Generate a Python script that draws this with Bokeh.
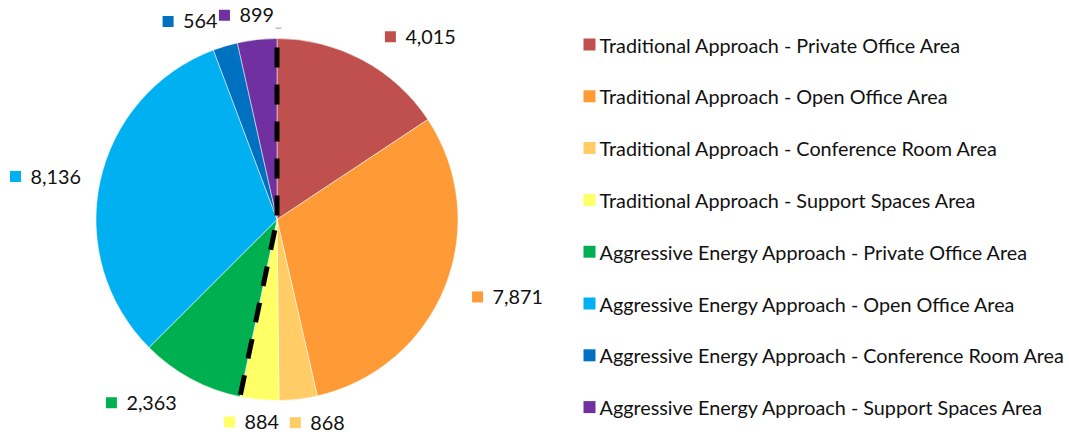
import math
from bokeh.plotting import figure
from bokeh.models import Range1d
from bokeh.core.properties import value
from bokeh.embed import file_html
from bokeh.resources import INLINE

# ---------------- data ----------------
categories = [
    "Traditional Approach - Private Office Area",
    "Traditional Approach - Open Office Area",
    "Traditional Approach - Conference Room Area",
    "Traditional Approach - Support Spaces Area",
    "Aggressive Energy Approach - Private Office Area",
    "Aggressive Energy Approach - Open Office Area",
    "Aggressive Energy Approach - Conference Room Area",
    "Aggressive Energy Approach - Support Spaces Area",
]
values = [4015, 7871, 868, 884, 2363, 8136, 564, 899]
groups = ["Traditional"] * 4 + ["Aggressive"] * 4
colors = ["#C0504D", "#FF9B37", "#FFCC66", "#FFFF66",
          "#00B050", "#00B0F0", "#0070C0", "#7030A0"]

# ---------------- layout (pixels) ----------------
W, H = 1069, 434
CX, CY = 276.5, H - 219      # pie centre (data coords, y up)
R = 181
FONT = "Lato"
FS = "19.8px"

# label square placement (angle nudge from slice mid-angle, radius)
label_nudge = [3.6, -0.7, 1.6, 7.6, 13.7, -2.9, -12.2, -8.1]
label_rad = [215, 215, 204, 208, 247, 265, 226, 211]

p = figure(width=W, height=H, x_range=Range1d(0, W), y_range=Range1d(0, H),
           output_backend="svg", toolbar_location=None, min_border=0,
           x_axis_location=None, y_axis_location=None)
p.grid.visible = False
p.outline_line_color = None
p.background_fill_color = "white"
p.border_fill_color = "white"

total = float(sum(values))
cum = [0.0]
for v in values:
    cum.append(cum[-1] + v)
a0 = [c / total * 360 for c in cum[:-1]]
a1 = [c / total * 360 for c in cum[1:]]

def rad(a):
    return math.radians(90 - a)

p.wedge(x=[CX] * len(values), y=[CY] * len(values), radius=R,
        start_angle=[rad(a) for a in a0], end_angle=[rad(a) for a in a1],
        direction="clock", fill_color=colors, line_color="white", line_width=0.5)

# dashed separators between the two approaches
n_trad = groups.count("Traditional")
split = a1[n_trad - 1]
for ang, off in [(0.0, 33), (split, 26)]:
    ex = CX + R * math.sin(math.radians(ang))
    ey = CY + R * math.cos(math.radians(ang))
    p.line([CX, ex], [CY, ey], line_color="black", line_width=5,
           line_dash="20 17", line_dash_offset=off, line_cap="butt")

# data labels
sq_x, sq_y, tx, ty, txt = [], [], [], [], []
for i, v in enumerate(values):
    mid = (a0[i] + a1[i]) / 2 + label_nudge[i]
    x = CX + label_rad[i] * math.sin(math.radians(mid))
    y = CY + label_rad[i] * math.cos(math.radians(mid))
    sq_x.append(x); sq_y.append(y)
    tx.append(x + 15); ty.append(y)
    txt.append(f"{v:,}")
p.scatter(sq_x, sq_y, marker="square", size=11, fill_color=colors, line_color=None)
p.text(tx, ty, text=txt, text_font=value(FONT), text_font_size=FS,
       text_baseline="middle", text_align="left", text_color="#111111")

# small leader line of the last label
p.segment(x0=[sq_x[-1] + 51], y0=[sq_y[-1] - 13], x1=[sq_x[-1] + 57], y1=[sq_y[-1] - 13],
          line_color="#999999", line_width=1)

# legend
leg_y0, leg_dy = H - 44, 51.8
ly = [leg_y0 - i * leg_dy for i in range(len(categories))]
p.scatter([589] * len(categories), ly, marker="square", size=12,
          fill_color=colors, line_color=None)
p.text([599] * len(categories), ly, text=categories, text_font=value(FONT),
       text_font_size=FS, text_baseline="middle", text_align="left",
       text_color="#111111")

open("out.html", "w").write(file_html(p, INLINE))
